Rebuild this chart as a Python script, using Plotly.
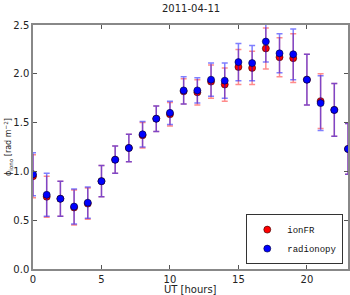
import plotly.graph_objects as go

hours = list(range(24))
ionfr = [0.95, 0.74, 0.72, 0.63, 0.67, 0.90, 1.12, 1.24, 1.37, 1.54, 1.585, 1.82,
         1.81, 1.92, 1.89, 2.07, 2.06, 2.26, 2.17, 2.16, 1.94, 1.72, 1.63, 1.23]
ionfr_err = [0.22, 0.21, 0.18, 0.18, 0.16, 0.16, 0.14, 0.14, 0.13, 0.13, 0.12, 0.13,
             0.13, 0.17, 0.17, 0.18, 0.17, 0.21, 0.20, 0.25, 0.26, 0.28, 0.27, 0.26]
radionopy = [0.97, 0.76, 0.72, 0.64, 0.68, 0.90, 1.12, 1.24, 1.38, 1.54, 1.60, 1.83,
             1.83, 1.94, 1.93, 2.12, 2.11, 2.33, 2.21, 2.20, 1.94, 1.70, 1.63, 1.23]
radionopy_err = [0.22, 0.22, 0.18, 0.18, 0.16, 0.16, 0.14, 0.14, 0.13, 0.13, 0.12, 0.14,
                 0.13, 0.17, 0.18, 0.19, 0.18, 0.21, 0.20, 0.26, 0.26, 0.28, 0.27, 0.26]
x_ticks = [0, 5, 10, 15, 20]
y_ticks = [0.0, 0.5, 1.0, 1.5, 2.0, 2.5]

fig = go.Figure()
fig.add_trace(go.Scatter(
    x=hours, y=ionfr, mode="markers", name="ionFR",
    marker=dict(color="#ff0000", size=7, line=dict(color="#300000", width=0.6)),
    error_y=dict(type="data", array=ionfr_err, visible=True,
                 color="rgba(255,0,0,0.45)", thickness=1.5, width=3),
))
fig.add_trace(go.Scatter(
    x=hours, y=radionopy, mode="markers", name="radionopy",
    marker=dict(color="#0000ff", size=7, line=dict(color="#000030", width=0.6)),
    error_y=dict(type="data", array=radionopy_err, visible=True,
                 color="rgba(0,0,255,0.5)", thickness=1.5, width=3),
))

axis_common = dict(
    showgrid=False, zeroline=False, showline=True, linecolor="#888888", linewidth=1.5,
    mirror="ticks", ticks="inside", ticklen=4, tickcolor="#555555", tickwidth=1,
    tickfont=dict(family="DejaVu Sans", size=10, color="#222222"),
    automargin=False,
)

font_txt = dict(family="DejaVu Sans", size=10, color="#222222")

fig.update_layout(
    width=350, height=295,
    margin=dict(l=33, r=2, t=25, b=26, autoexpand=False),
    paper_bgcolor="white", plot_bgcolor="white",
    xaxis=dict(range=[0, 23], tickvals=x_ticks, ticklabelstandoff=0, **axis_common),
    yaxis=dict(range=[0, 2.5], tickvals=y_ticks, tickformat=".1f", **axis_common),
    legend=dict(x=0.985, y=0.02, xanchor="right", yanchor="bottom",
                bgcolor="white", bordercolor="#333333", borderwidth=1,
                font=dict(family="Liberation Mono", size=9, color="#111111"),
                tracegroupgap=0, itemwidth=30),
    showlegend=True,
    annotations=[
        dict(text="2011-04-11", xref="paper", yref="paper", x=0.5, y=1.0,
             yshift=17, xanchor="center", yanchor="middle", showarrow=False, font=font_txt),
        dict(text="UT [hours]", xref="paper", yref="paper", x=0.5, y=0,
             yshift=-20, xanchor="center", yanchor="middle", showarrow=False, font=font_txt),
        dict(text="ϕ<sub>iono</sub> [rad m<sup>−2</sup>]", xref="paper", yref="paper",
             x=0, y=0.5, xshift=-25, xanchor="center", yanchor="middle", textangle=-90,
             showarrow=False, font=dict(family="DejaVu Sans", size=8, color="#222222")),
    ],
)

fig.write_html("out.html", config={"displayModeBar": False},
               post_script="document.body.style.margin='0';")
